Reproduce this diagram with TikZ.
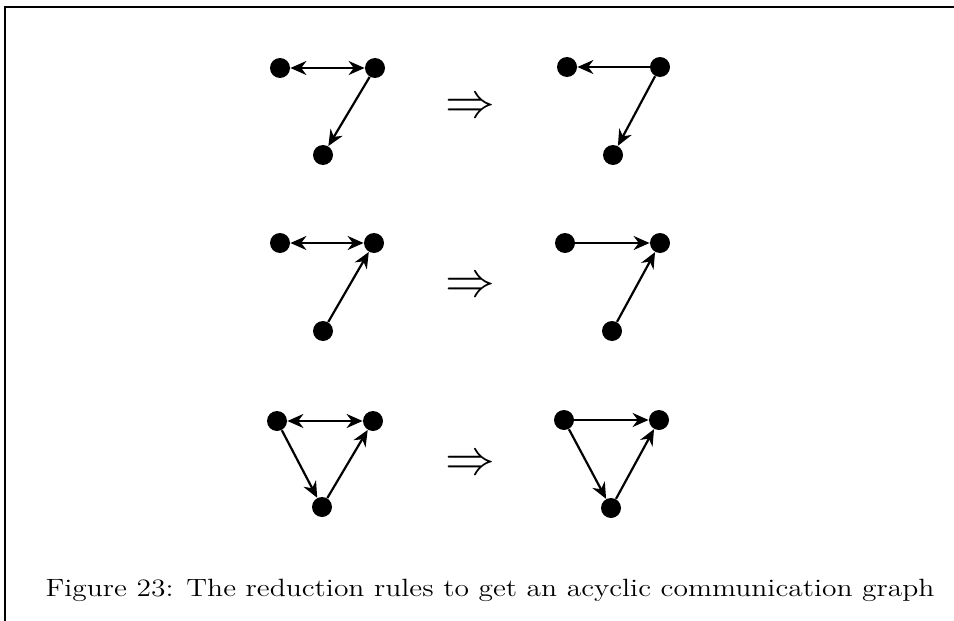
\documentclass[tikz,border=0pt]{standalone}
\usepackage{tikz}
\usetikzlibrary{arrows.meta,positioning}

\begin{document}
\begin{tikzpicture}[
    x=0.5pt, y=-0.5pt,
    vertex/.style={circle, fill=black, inner sep=0pt, minimum size=10pt},
    edge/.style={-{Stealth[length=8pt,width=7pt]}, line width=1.1pt},
    biedge/.style={{Stealth[length=8pt,width=7pt]}-{Stealth[length=8pt,width=7pt]}, line width=1.1pt},
    rule/.style={font=\fontsize{26}{26}\selectfont}
]
    \useasboundingbox (0,0) rectangle (954,621);
    % frame
    \draw[line width=1pt] (5,621) -- (5,7) -- (954,7);

    % rule 1
    \node[vertex] (a1) at (280,68) {};
    \node[vertex] (b1) at (375,68) {};
    \node[vertex] (c1) at (323,155) {};
    \draw[biedge] (a1) -- (b1);
    \draw[edge] (b1) -- (c1);
    \node[rule] (r1) at (470,108) {$\Rightarrow$};
    \node[vertex] (d1) at (567,67) {};
    \node[vertex] (e1) at (660,67) {};
    \node[vertex] (f1) at (613,155) {};
    \draw[edge] (e1) -- (d1);
    \draw[edge] (e1) -- (f1);

    % rule 2
    \node[vertex] (a2) at (280,243) {};
    \node[vertex] (b2) at (374,243) {};
    \node[vertex] (c2) at (323,331) {};
    \draw[biedge] (a2) -- (b2);
    \draw[edge] (c2) -- (b2);
    \node[rule] (r2) at (470,287) {$\Rightarrow$};
    \node[vertex] (d2) at (565,243) {};
    \node[vertex] (e2) at (660,243) {};
    \node[vertex] (f2) at (612,331) {};
    \draw[edge] (d2) -- (e2);
    \draw[edge] (f2) -- (e2);

    % rule 3
    \node[vertex] (a3) at (277,421) {};
    \node[vertex] (b3) at (373,421) {};
    \node[vertex] (c3) at (322,507) {};
    \draw[biedge] (a3) -- (b3);
    \draw[edge] (a3) -- (c3);
    \draw[edge] (c3) -- (b3);
    \node[rule] (r3) at (470,465) {$\Rightarrow$};
    \node[vertex] (d3) at (564,420) {};
    \node[vertex] (e3) at (659,420) {};
    \node[vertex] (f3) at (611,508) {};
    \draw[edge] (d3) -- (e3);
    \draw[edge] (d3) -- (f3);
    \draw[edge] (f3) -- (e3);

    % caption
    \node[font=\fontsize{12.5}{15}\selectfont] (caption) at (490,590)
        {\scalebox{1.18}[1]{Figure 23: The reduction rules to get an acyclic communication graph}};
\end{tikzpicture}
\end{document}
